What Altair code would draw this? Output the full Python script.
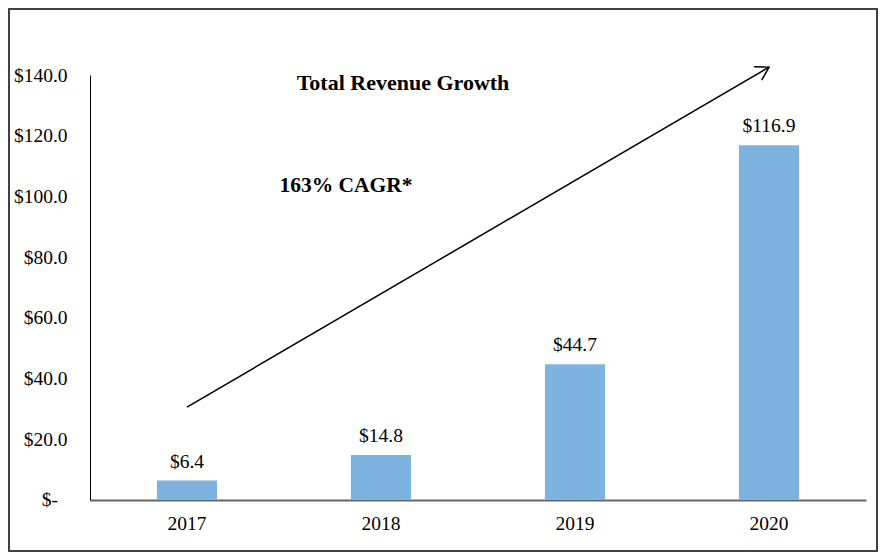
import altair as alt
import pandas as pd

years = ["2017", "2018", "2019", "2020"]
revenue = [6.4, 14.8, 44.7, 116.9]
labels = ["$6.4", "$14.8", "$44.7", "$116.9"]
y_ticks = [0, 20, 40, 60, 80, 100, 120, 140]
zero_label = "$-"
arrow_years = ["2017", "2020"]
arrow_values = [30.6, 142.6]
title_text = "Total Revenue Growth"
cagr_text = "163% CAGR*"

FONT = "Liberation Serif"

bars_df = pd.DataFrame({"year": years, "revenue": revenue, "label": labels})
arrow_df = pd.DataFrame({"year": arrow_years, "value": arrow_values})
tip_df = arrow_df.iloc[[1]]
one = pd.DataFrame({"k": [0]})

x_enc = alt.X(
    "year:N",
    sort=years,
    scale=alt.Scale(paddingInner=0.69, paddingOuter=0.345),
    axis=alt.Axis(
        title=None, labelAngle=0, ticks=False, labelPadding=14,
        labelFont=FONT, labelFontSize=19.5, labelColor="black",
        domainColor="#666666", domainWidth=2,
    ),
)
y_scale = alt.Scale(domain=[0, 140], nice=False)
y_enc = alt.Y(
    "revenue:Q",
    scale=y_scale,
    axis=alt.Axis(
        title=None, values=y_ticks, grid=False, ticks=False, labelPadding=23,
        labelFont=FONT, labelFontSize=19.5, labelColor="black",
        domainColor="black", domainWidth=1,
        labelExpr="datum.value == 0 ? '' : '$' + format(datum.value, '.1f')",
    ),
)

border = alt.Chart(one).mark_rect(
    fillOpacity=0, stroke="#404040", strokeWidth=2
).encode(
    x=alt.value(-81), x2=alt.value(787), y=alt.value(-66), y2=alt.value(476)
)

bars = alt.Chart(bars_df).mark_bar(color="#7EB3E0").encode(x=x_enc, y=y_enc)

bar_labels = alt.Chart(bars_df).mark_text(
    font=FONT, fontSize=19.5, color="black", baseline="middle", dy=-19
).encode(x=alt.X("year:N", sort=years), y=alt.Y("revenue:Q", scale=y_scale), text="label:N")

zero_df = pd.DataFrame({"v": [0], "t": [zero_label]})
zero_text = alt.Chart(zero_df).mark_text(
    font=FONT, fontSize=19.5, color="black", baseline="middle", align="right"
).encode(x=alt.value(-32), y=alt.Y("v:Q", scale=y_scale), text="t:N")

arrow_line = alt.Chart(arrow_df).mark_line(color="black", strokeWidth=1.5).encode(
    x=alt.X("year:N", sort=years), y=alt.Y("value:Q", scale=y_scale)
)

arrow_head = alt.Chart(tip_df).mark_point(
    shape="M-1,-0.6L0,0L-1,0.6", filled=False, color="black", strokeWidth=1.5,
    size=650, angle=330, opacity=1,
).encode(x=alt.X("year:N", sort=years), y=alt.Y("value:Q", scale=y_scale))

title = alt.Chart(pd.DataFrame({"t": [title_text]})).mark_text(
    font=FONT, fontSize=22, fontWeight="bold", color="black", baseline="middle", align="center"
).encode(x=alt.value(313), y=alt.value(8), text="t:N")

cagr = alt.Chart(pd.DataFrame({"t": [cagr_text]})).mark_text(
    font=FONT, fontSize=21.5, fontWeight="bold", color="black", baseline="middle", align="center"
).encode(x=alt.value(256), y=alt.value(111), text="t:N")

chart = alt.layer(border, bars, bar_labels, zero_text, arrow_line, arrow_head, title, cagr).properties(
    width=776,
    height=425,
    autosize=alt.AutoSizeParams(type="none"),
    padding={"left": 82, "top": 67, "right": 12, "bottom": 52},
    background="white",
).configure_view(stroke=None)

chart.save("out.html", embed_options={"renderer": "svg", "actions": False})
